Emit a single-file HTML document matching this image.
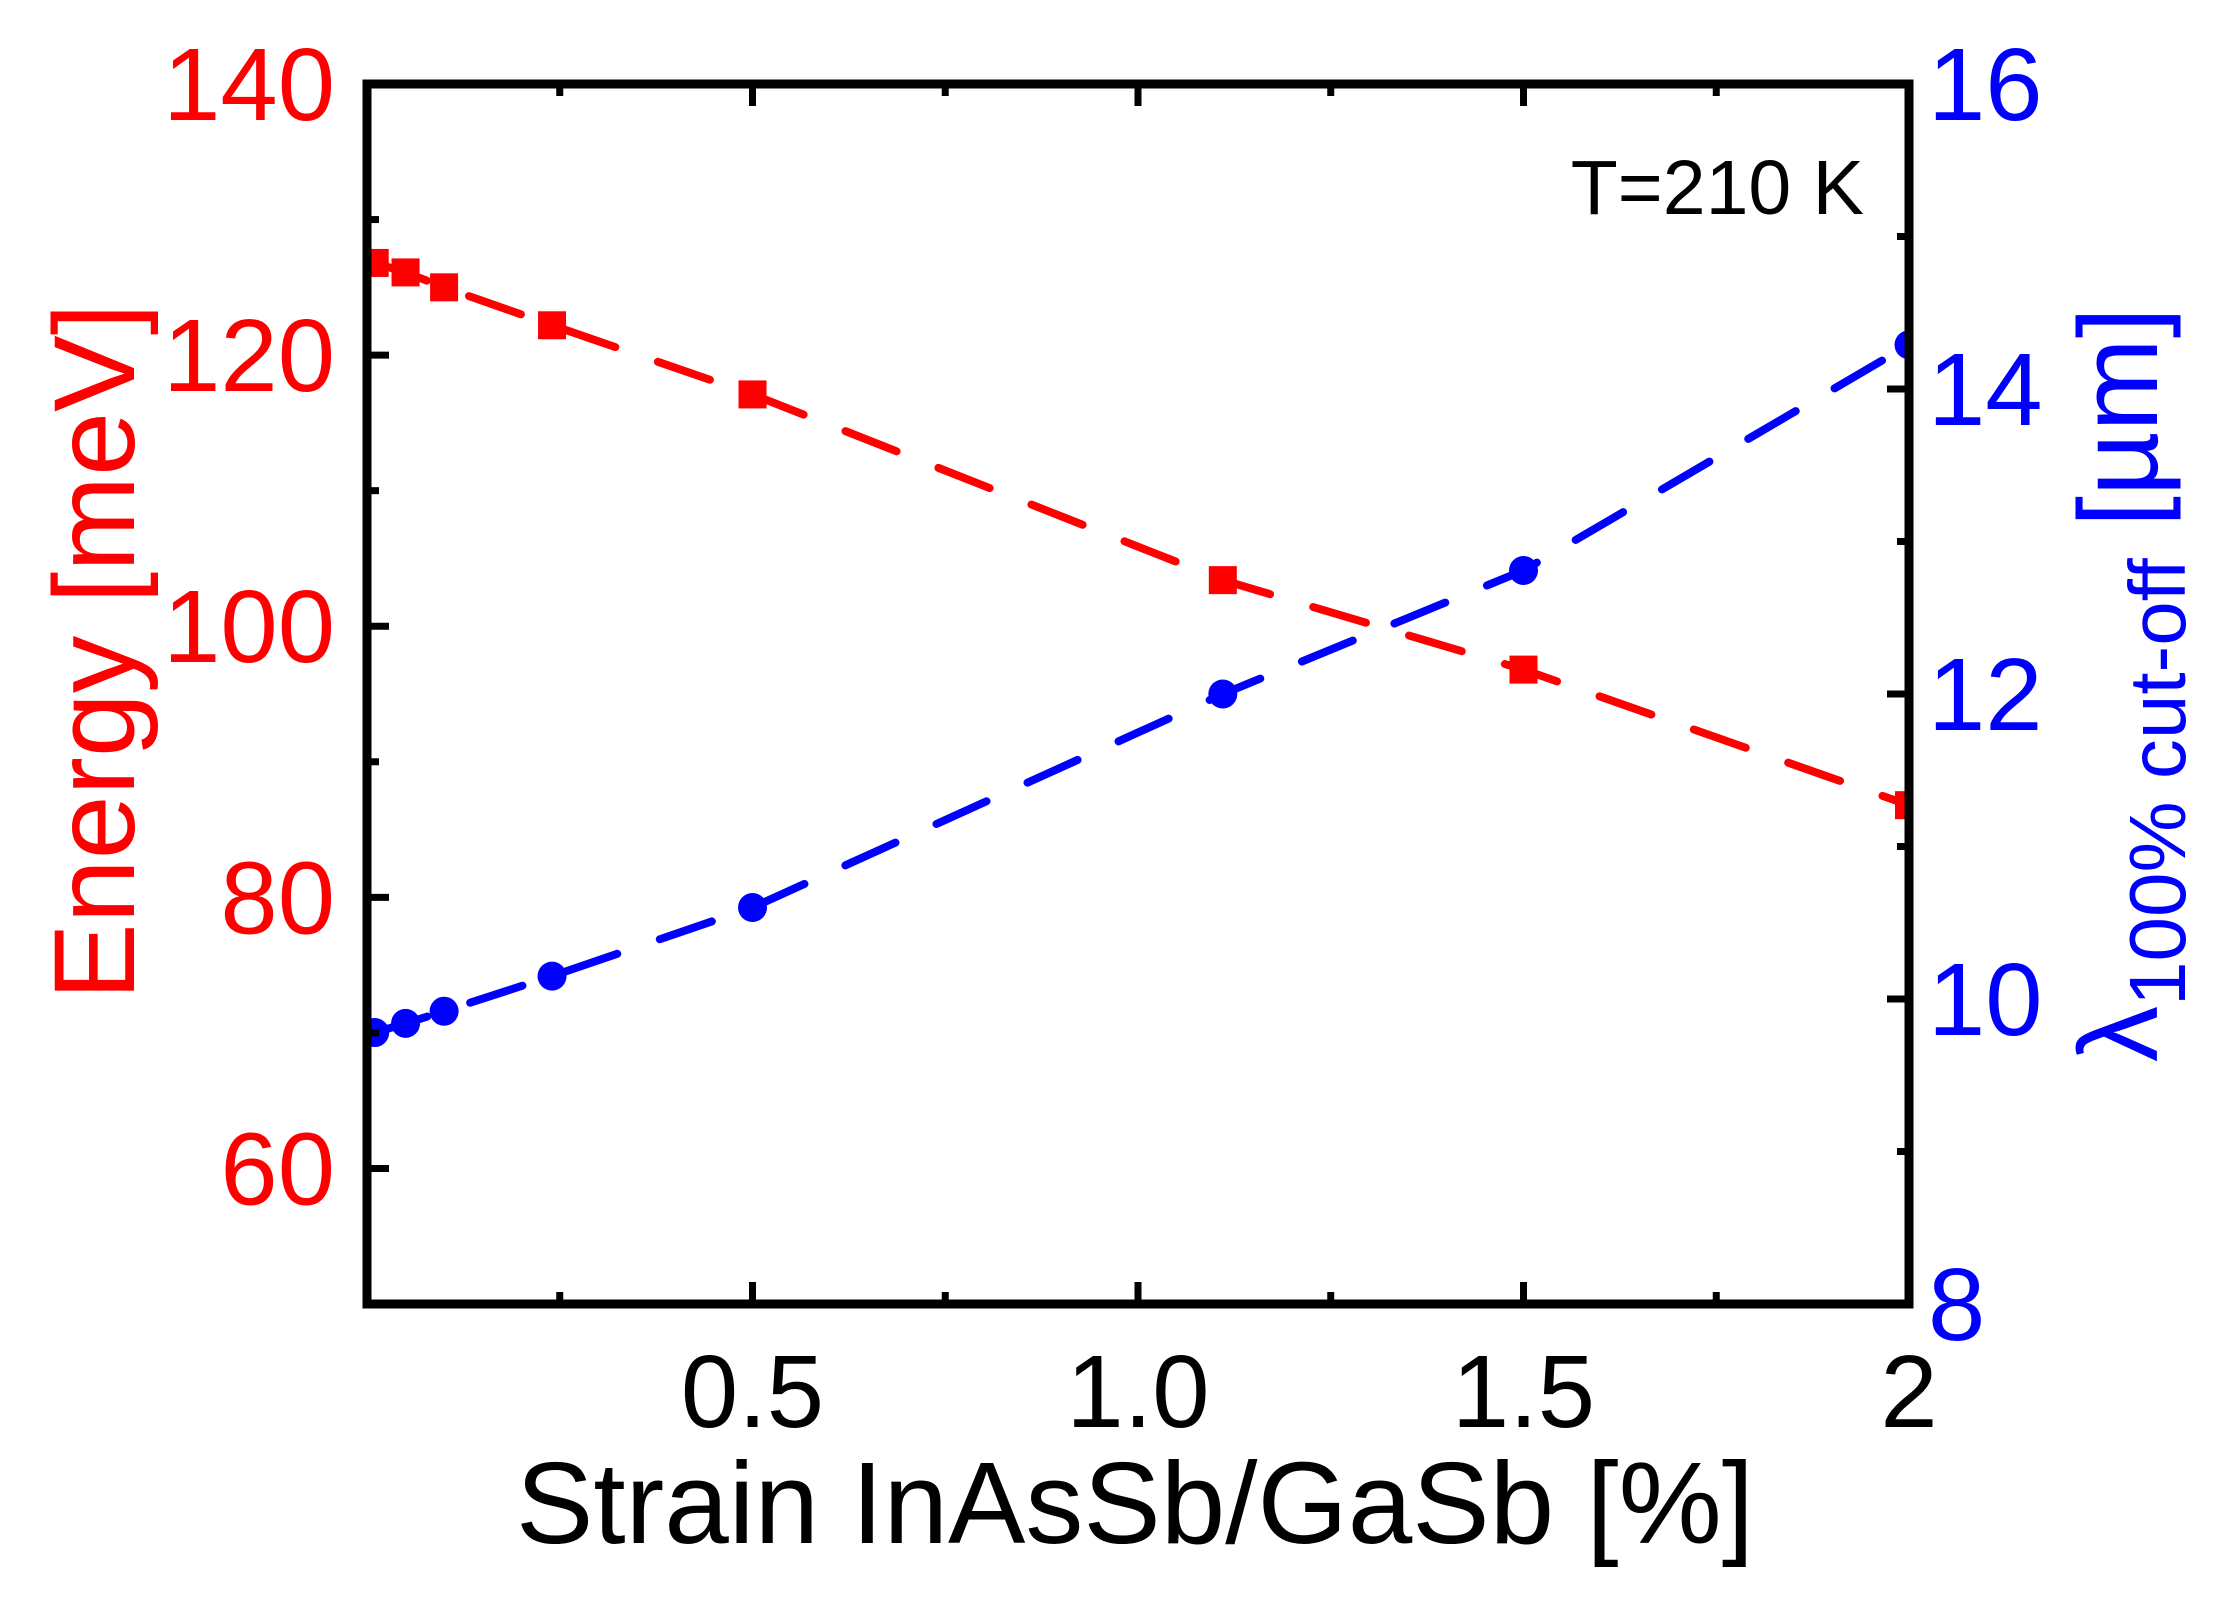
<!DOCTYPE html>
<html><head><meta charset="utf-8"><style>
html,body{margin:0;padding:0;background:#fff;}
svg{display:block;font-family:"Liberation Sans",Arial,sans-serif;}
</style></head><body>
<svg id="chart" width="2238" height="1604" viewBox="0 0 2238 1604" xmlns="http://www.w3.org/2000/svg">
<defs><clipPath id="plotclip"><rect x="367" y="84" width="1542" height="1220"/></clipPath></defs>
<g id="marks" clip-path="url(#plotclip)"></g>
<g id="axes"></g>
<text x="1864" y="214" text-anchor="end" font-size="77" fill="#000">T=210 K</text>
<text x="516" y="1543" font-size="116" fill="#000">Strain InAsSb/GaSb [%]</text>
<text transform="translate(134,1000) rotate(-90)" font-size="115" fill="#ff0000">Energy [meV]</text>
<text transform="translate(2157,1062) rotate(-90)" font-size="112" fill="#0000ff">λ<tspan font-size="80" dy="28">100% cut-off</tspan><tspan dy="-28"> [µm]</tspan></text>
</svg>
<script>
const strain = [0.01, 0.05, 0.1, 0.24, 0.5, 1.11, 1.5, 2.0];
const energy = [126.8, 126.1, 125.0, 122.2, 117.1, 103.4, 96.8, 86.8];
const cutoff = [9.78, 9.84, 9.92, 10.15, 10.60, 12.0, 12.81, 14.29];
const xTicks = [0.5, 1.0, 1.5, 2];
const xTickLabels = ["0.5", "1.0", "1.5", "2"];
const leftTicks = [60, 80, 100, 120, 140];
const rightTicks = [8, 10, 12, 14, 16];

const L=367,R=1909,T=84,B=1304;
const sx=v=>L+(v-0)/(2-0)*(R-L);
const syL=v=>B-(v-50)/(140-50)*(B-T);
const syR=v=>B-(v-8)/(16-8)*(B-T);
const NS="http://www.w3.org/2000/svg";
function mk(tag,attrs,parent){const e=document.createElementNS(NS,tag);for(const k in attrs)e.setAttribute(k,attrs[k]);parent.appendChild(e);return e;}
const marks=document.getElementById('marks');
const axes=document.getElementById('axes');

let pr=mk('polyline',{points:strain.map((x,i)=>sx(x)+','+syL(energy[i])).join(' '),fill:'none',stroke:'#ff0000','stroke-width':8,'stroke-dasharray':'55 45','stroke-linecap':'round'},marks);


let pb=mk('polyline',{points:strain.map((x,i)=>sx(x)+','+syR(cutoff[i])).join(' '),fill:'none',stroke:'#0000ff','stroke-width':8,'stroke-dasharray':'55 45','stroke-linecap':'round'},marks);


strain.forEach((x,i)=>{
  const s=mk('rect',{x:sx(x)-14,y:syL(energy[i])-14,width:28,height:28,fill:'#ff0000'},marks);
  
  
  const c=mk('circle',{cx:sx(x),cy:syR(cutoff[i]),r:14.5,fill:'#0000ff'},marks);
  
  
});

const fr=mk('rect',{x:L,y:T,width:R-L,height:B-T,fill:'none',stroke:'#000','stroke-width':9},axes);


for(let v=0.25;v<2;v+=0.25){
  const major=Math.abs(v*2-Math.round(v*2))<1e-6;const len=major?22:12;
  mk('line',{x1:sx(v),x2:sx(v),y1:B,y2:B-len,stroke:'#000','stroke-width':7},axes);
  mk('line',{x1:sx(v),x2:sx(v),y1:T,y2:T+len,stroke:'#000','stroke-width':7},axes);
}
xTicks.forEach((v,i)=>{
  const t=mk('text',{x:sx(v),y:1427,'text-anchor':'middle','font-size':103,fill:'#000'},axes);
  t.textContent=xTickLabels[i];
  
  
});
for(let v=60;v<140;v+=10){
  const len=(v%20===0)?22:12;
  mk('line',{x1:L,x2:L+len,y1:syL(v),y2:syL(v),stroke:'#000','stroke-width':7},axes);
}
leftTicks.forEach(v=>{
  const t=mk('text',{x:335,y:syL(v)+36,'text-anchor':'end','font-size':103,fill:'#ff0000'},axes);
  t.textContent=String(v);
  
  
});
for(let v=9;v<16;v+=1){
  const len=(v%2===0)?22:12;
  mk('line',{x1:R,x2:R-len,y1:syR(v),y2:syR(v),stroke:'#000','stroke-width':7},axes);
}
rightTicks.forEach(v=>{
  const t=mk('text',{x:1928,y:syR(v)+36,'text-anchor':'start','font-size':103,fill:'#0000ff'},axes);
  t.textContent=String(v);
  
  
});
</script>
</body></html>
